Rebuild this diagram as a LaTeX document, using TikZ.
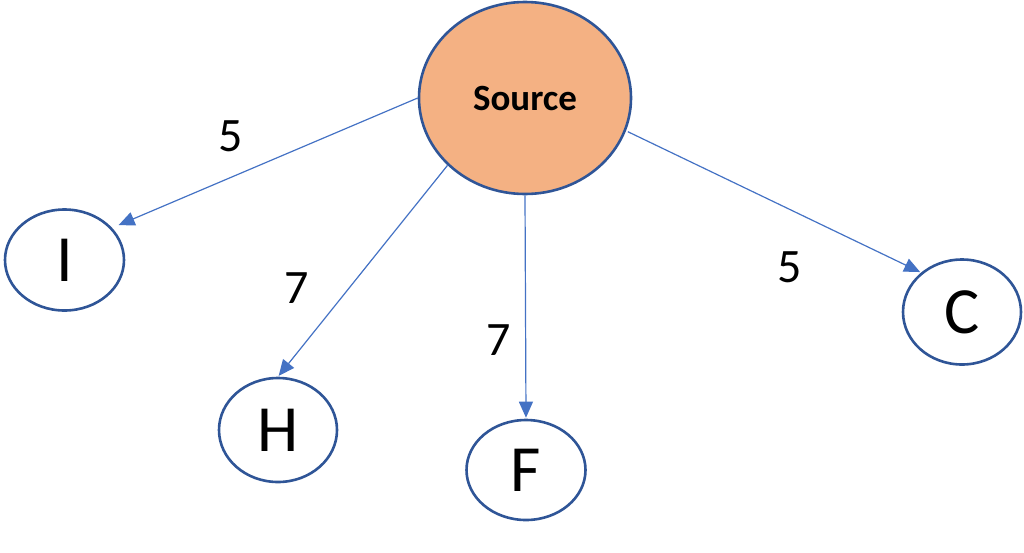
\documentclass[tikz,border=0pt]{standalone}
\usepackage{fontspec}
\setmainfont{Carlito}
\usetikzlibrary{arrows.meta,shapes.geometric}
\definecolor{edgeblue}{HTML}{4472C4}
\definecolor{ringblue}{HTML}{2F5597}
\definecolor{srcfill}{HTML}{F4B183}
\tikzset{
  vert/.style={ellipse, draw=ringblue, line width=2.6pt, fill=white, inner sep=0pt, font=\fontsize{66}{66}\selectfont},
  srcnode/.style={vert, fill=srcfill, font=\fontsize{37}{37}\selectfont\bfseries},
  edge/.style={draw=edgeblue, line width=1.2pt, -{Triangle[length=16pt,width=14pt]}},
  weight/.style={inner sep=0pt, font=\fontsize{48}{48}\selectfont}
}
\begin{document}
\begin{tikzpicture}[x=1pt,y=-1pt]
\useasboundingbox (0,0) rectangle (1024,552);
\node[srcnode, minimum width=212pt, minimum height=192pt] (src) at (525,98) {Source};
\node[vert, minimum width=119pt, minimum height=101pt] (I) at (64.5,260) {I};
\node[vert, minimum width=118pt, minimum height=104pt] (H) at (278,430) {H};
\node[vert, minimum width=119pt, minimum height=100pt] (F) at (526,470) {F};
\node[vert, minimum width=118pt, minimum height=105pt] (C) at (962,312) {C};
\draw[edge, shorten >=7pt] (src.180) -- (I.34);
\draw[edge, shorten >=1pt] (src.221) -- (H.90);
\draw[edge, shorten >=1pt] (src.270) -- (F.90);
\draw[edge, shorten <=2pt, shorten >=1pt] (src.342) -- (C.136.5);
\node[weight] (w1) at (231,136) {5};
\node[weight] (w2) at (297,288) {7};
\node[weight] (w3) at (499,340) {7};
\node[weight] (w4) at (790,267) {5};
\end{tikzpicture}
\end{document}
